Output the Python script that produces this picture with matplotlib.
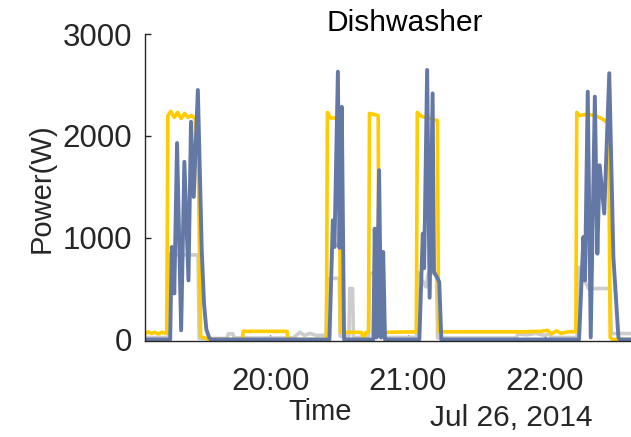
import pandas as pd
import matplotlib
matplotlib.use("Agg")
import matplotlib.pyplot as plt
import matplotlib.dates as mdates

plt.rcParams["font.family"] = ["Liberation Sans", "DejaVu Sans"]

# minutes after 19:00 on Jul 26, 2014, and power in W
gray_t = [5.2, 15.6, 16.2, 20, 24, 28.4, 28.9, 41.0, 41.6, 43.6, 44.2, 70, 72.9, 75, 77.3,
          80, 84.3, 84.8, 86, 90.1, 90.5, 94.3, 94.7, 95.9, 96.3, 102.9, 103.4, 105, 107.4,
          107.9, 123.8, 124.3, 128, 129, 132.6, 133.1, 167.5, 168.2, 172, 176, 180, 182.2,
          182.7, 194.1, 194.7, 199, 208.4, 209.0, 217.6]
gray_v = [20, 20, 840, 830, 830, 830, 10, 10, 55, 55, 15, 15, 70, 40, 60,
          40, 40, 590, 600, 600, 30, 30, 500, 500, 20, 20, 650, 650, 650,
          20, 20, 660, 515, 650, 650, 15, 15, 55, 45, 60, 40, 55,
          20, 20, 710, 500, 500, 58, 58]

yellow_t = [5.2, 6.5, 8, 9.5, 11, 12.5, 14.7, 15.2, 16.5, 18, 19.5, 21, 22.5, 24, 25.5, 27.1,
            28.5, 29.5, 33, 47.8, 48.1, 56, 67.3, 67.6, 84.5, 84.9, 86.3, 89.9, 90.2, 90.6,
            99.8, 100.4, 101.4, 101.8, 102.9, 103.3, 107.1, 107.5, 123.8, 124.2, 126.2,
            133.0, 133.5, 170, 178, 181, 183, 185, 187, 190, 193.5, 193.9, 195, 198, 202,
            205.5, 207.8, 208.5, 209.5, 217.6]
yellow_v = [55, 75, 60, 70, 55, 70, 60, 2200, 2240, 2180, 2230, 2170, 2220, 2180, 2200, 2170,
            1700, 30, 0, 0, 80, 80, 80, 0, 0, 2230, 2175, 2175, 1600, 70,
            70, 30, 40, 70, 70, 2220, 2200, 70, 75, 2230, 2190,
            2150, 75, 75, 80, 90, 55, 85, 60, 75, 75, 2230, 2200, 2210, 2200,
            2160, 2120, 20, 0, 0]

blue_t = [5.2, 16.2, 16.9, 18.0, 19.2, 21.0, 22.4, 24.2, 25.3, 26.5, 28.3, 30.0, 31.0, 32.0,
          33.2, 34.0, 85.8, 87.3, 88.0, 89.5, 90.2, 91.2, 92.2, 105.0, 105.6, 106.4, 107.5,
          108.4, 109.3, 110.1, 125.1, 126.6, 127.2, 128.5, 129.6, 130.9, 131.5, 132.8, 133.8,
          134.7, 194.9, 196.8, 197.5, 198.7, 200.0, 201.8, 202.9, 203.9, 205.9, 208.1, 209.9,
          212.1, 212.8, 217.6]
blue_v = [0, 0, 908, 452, 1929, 90, 1745, 580, 2138, 1400, 2450, 875, 350, 100,
          20, 0, 0, 1170, 908, 2630, 900, 2285, 0, 0, 1089, 20, 1663,
          20, 860, 0, 0, 1040, 700, 2647, 410, 2417, 660, 613, 564,
          0, 0, 1007, 580, 2434, 20, 2385, 843, 1712, 1237, 2615, 810,
          20, 0, 0]

base = pd.Timestamp("2014-07-26 19:00")


def to_time(minutes):
    return base + pd.to_timedelta(minutes, unit="m")


fig = plt.figure(figsize=(6.31, 4.37), dpi=100)
ax = fig.add_axes([145 / 631, 96 / 437, 486 / 631, 307 / 437])

ax.plot(to_time(gray_t), gray_v, color="#cccccc", lw=2.6, solid_joinstyle="round")
ax.plot(to_time(yellow_t), yellow_v, color="#ffcc00", lw=2.6, solid_joinstyle="round")
ax.plot(to_time(blue_t), blue_v, color="#6478a6", lw=2.8, solid_joinstyle="round")

ax.set_xlim(to_time(5.2), to_time(217.6))
ax.set_ylim(-15, 3000)
ax.set_yticks([0, 1000, 2000, 3000])
ax.xaxis.set_major_locator(mdates.HourLocator())
ax.xaxis.set_major_formatter(mdates.DateFormatter("%H:%M"))

for side in ["top", "right"]:
    ax.spines[side].set_visible(False)
for side in ["left", "bottom"]:
    ax.spines[side].set_color("#262626")
    ax.spines[side].set_linewidth(1.0)
ax.tick_params(direction="in", length=4, width=1.0, color="#262626",
               labelcolor="#262626", labelsize=22.5)
ax.tick_params(axis="x", pad=19)
ax.tick_params(axis="y", pad=9)

fig.text(405 / 631, 1 - 23 / 437, "Dishwasher", ha="center", va="center",
         fontsize=21.5, color="black")
fig.text(42 / 631, 1 - 188 / 437, "Power(W)", ha="center", va="center",
         rotation=90, fontsize=21, color="#262626")
fig.text(320 / 631, 1 - 412 / 437, "Time", ha="center", va="center",
         fontsize=21, color="#262626")
fig.text(593 / 631, 1 - 418 / 437, "Jul 26, 2014", ha="right", va="center",
         fontsize=21.5, color="#262626")

fig.savefig("out.png", dpi=100)
